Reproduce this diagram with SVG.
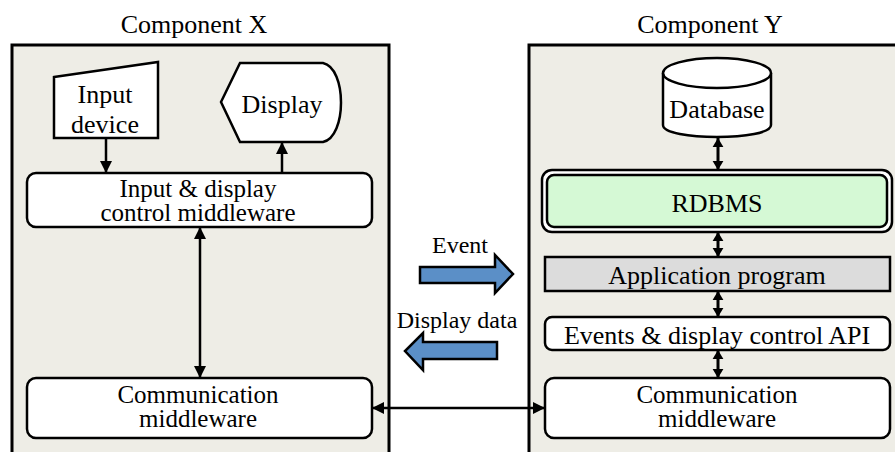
<svg xmlns="http://www.w3.org/2000/svg" width="895" height="452" viewBox="0 0 895 452">
<style>
text{font-family:"Liberation Serif","Times New Roman",serif;font-size:26px;fill:#000;text-anchor:middle}
.comp{fill:#eeede6;stroke:#000;stroke-width:3}
.nd{fill:#fff;stroke:#000;stroke-width:2.5}
.ln{fill:none;stroke:#000;stroke-width:2.5}
.blk{fill:#5b8fc7;stroke:#000;stroke-width:2.5;stroke-linejoin:miter}
.sm{font-size:24px}
.two{font-size:25px}
</style>
<defs>
<marker id="ah" viewBox="0 0 12 12" refX="12" refY="6" markerWidth="12" markerHeight="12" markerUnits="userSpaceOnUse" orient="auto-start-reverse">
<path d="M0,0 L12,6 L0,12 Z" fill="#000"/>
</marker>
<marker id="ahs" viewBox="0 0 10 12" refX="10" refY="6" markerWidth="9" markerHeight="14" markerUnits="userSpaceOnUse" orient="auto-start-reverse">
<path d="M0,0 L10,6 L0,12 Z" fill="#000"/>
</marker>
</defs>
<rect width="895" height="452" fill="#fff"/>
<g id="componentX">
<rect class="comp" x="12" y="45" width="377" height="420"/>
<text x="194" y="33">Component X</text>
</g>
<g id="componentY">
<rect class="comp" x="529" y="45" width="380" height="420"/>
<text x="710" y="33">Component Y</text>
</g>
<g id="inputDevice">
<path class="nd" d="M54,77 L158,62 L158,138 L54,138 Z"/>
<text x="105" y="103">Input<tspan x="105" y="133">device</tspan></text>
</g>
<g id="display">
<path class="nd" d="M221,102 L240,63 L323,63 C347,68 347,137 323,142 L240,142 Z"/>
<text x="282" y="113">Display</text>
</g>
<g id="inputDisplayMiddleware">
<rect class="nd" x="27" y="173" width="345" height="54" rx="9"/>
<text class="two" x="198" y="197">Input &amp; display<tspan x="198" y="221">control middleware</tspan></text>
</g>
<g id="commX">
<rect class="nd" x="27" y="378" width="345" height="60" rx="9"/>
<text class="two" x="198" y="403">Communication<tspan x="198" y="427">middleware</tspan></text>
</g>
<g id="database">
<path class="nd" d="M663,73 L663,125 C663,141 771,141 771,125 L771,73"/>
<ellipse class="nd" cx="717" cy="73" rx="54" ry="15"/>
<text x="717" y="118">Database</text>
</g>
<g id="rdbms">
<rect x="542" y="170" width="350" height="62" rx="10" fill="#fff" stroke="#000" stroke-width="2.5"/>
<rect x="547" y="175" width="340" height="52" rx="7" fill="#d5f9d5" stroke="#000" stroke-width="2.5"/>
<text x="717" y="212">RDBMS</text>
</g>
<g id="appProgram">
<rect x="545" y="257" width="345" height="34" fill="#dcdcdc" stroke="#000" stroke-width="2.5"/>
<text x="717" y="284">Application program</text>
</g>
<g id="eventsApi">
<rect class="nd" x="545" y="317" width="345" height="33" rx="7"/>
<text x="717" y="344">Events &amp; display control API</text>
</g>
<g id="commY">
<rect class="nd" x="545" y="378" width="345" height="60" rx="9"/>
<text class="two" x="717" y="403">Communication<tspan x="717" y="427">middleware</tspan></text>
</g>
<g id="eventArrow">
<path class="blk" d="M420,267 L495,267 L495,255 L513,274 L495,293 L495,283 L420,283 Z"/>
<text class="sm" x="460" y="253">Event</text>
</g>
<g id="displayDataArrow">
<path class="blk" d="M497,342 L423,342 L423,333 L405,351 L423,370 L423,359 L497,359 Z"/>
<text class="sm" x="457" y="328">Display data</text>
</g>
<g id="connectors">
<line class="ln" x1="106" y1="138" x2="106" y2="173" marker-end="url(#ah)"/>
<line class="ln" x1="282" y1="173" x2="282" y2="142" marker-end="url(#ah)"/>
<line class="ln" x1="200" y1="227" x2="200" y2="378" marker-start="url(#ah)" marker-end="url(#ah)"/>
<line class="ln" x1="372" y1="408" x2="545" y2="408" marker-start="url(#ah)" marker-end="url(#ah)"/>
<line x1="718" y1="138" x2="718" y2="170" stroke="#000" stroke-width="3" marker-start="url(#ahs)" marker-end="url(#ahs)"/>
<line x1="718" y1="232" x2="718" y2="257" stroke="#000" stroke-width="3" marker-start="url(#ahs)" marker-end="url(#ahs)"/>
<line x1="718" y1="291" x2="718" y2="317" stroke="#000" stroke-width="3" marker-start="url(#ahs)" marker-end="url(#ahs)"/>
<line x1="718" y1="350" x2="718" y2="378" stroke="#000" stroke-width="3" marker-start="url(#ahs)" marker-end="url(#ahs)"/>
</g>
</svg>
